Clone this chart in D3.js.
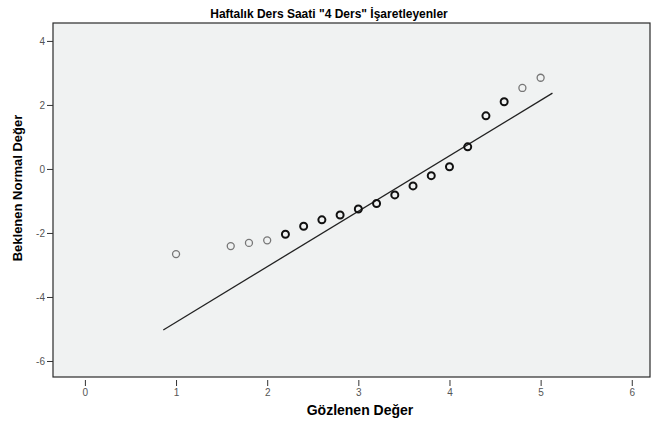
<!doctype html>
<html>
<head>
  <meta charset="utf-8">
  <script src="https://cdnjs.cloudflare.com/ajax/libs/d3/7.8.5/d3.min.js"></script>
  <style>
    body { margin: 0; background: #fff; }
    text { font-family: "Liberation Sans", Arial, sans-serif; }
  </style>
</head>
<body>
  <svg id="chart" width="653" height="421"></svg>
  <script>
    var observed = [1.0, 1.6, 1.8, 2.0, 2.2, 2.4, 2.6, 2.8, 3.0, 3.2, 3.4, 3.6, 3.8, 4.0, 4.2, 4.4, 4.6, 4.8, 5.0];
    var expected = [-2.66, -2.41, -2.31, -2.23, -2.04, -1.79, -1.59, -1.44, -1.25, -1.08, -0.81, -0.53, -0.21, 0.07, 0.69, 1.66, 2.1, 2.53, 2.85];
    var xTicks = [0, 1, 2, 3, 4, 5, 6];
    var yTicks = [-6, -4, -2, 0, 2, 4];
    // reference line end points
    var lineX = [0.86, 5.13];
    var lineY = [-5.03, 2.37];

    var svg = d3.select("#chart");
    var pLeft = 53, pRight = 650, pTop = 23, pBottom = 377;

    var x = d3.scaleLinear().domain([-0.35, 6.2]).range([pLeft, pRight]);
    var y = d3.scaleLinear().domain([-6.5, 4.56]).range([pBottom, pTop]);

    svg.append("rect")
      .attr("x", pLeft).attr("y", pTop)
      .attr("width", pRight - pLeft).attr("height", pBottom - pTop)
      .style("fill", "#f0f2f2")
      .style("stroke", "#2a2a2a")
      .style("stroke-width", 1.2);

    var fmt = d => String(d); // plain hyphen minus like the original

    // y axis
    var yAxis = svg.append("g")
      .attr("transform", "translate(" + pLeft + ",0)")
      .call(d3.axisLeft(y).tickValues(yTicks).tickFormat(fmt).tickSize(6).tickPadding(2));
    yAxis.select(".domain").remove();
    yAxis.selectAll("line").style("stroke", "#333");
    yAxis.selectAll("text").style("fill", "#555").style("font-size", "10px");

    // x axis
    var xAxis = svg.append("g")
      .attr("transform", "translate(0," + (pBottom + 3) + ")")
      .call(d3.axisBottom(x).tickValues(xTicks).tickFormat(fmt).tickSize(6).tickPadding(3));
    xAxis.select(".domain").remove();
    xAxis.selectAll("line").style("stroke", "#333");
    xAxis.selectAll("text").style("fill", "#555").style("font-size", "10px");

    // reference line
    svg.append("line")
      .attr("x1", x(lineX[0])).attr("y1", y(lineY[0]))
      .attr("x2", x(lineX[1])).attr("y2", y(lineY[1]))
      .style("stroke", "#222")
      .style("stroke-width", 1.3);

    var pts = observed.map((d, i) => ({ x: d, y: expected[i] }));
    svg.selectAll("circle.pt")
      .data(pts)
      .enter()
      .append("circle")
      .attr("class", "pt")
      .attr("cx", d => x(d.x))
      .attr("cy", d => y(d.y))
      .attr("r", 3.5)
      .style("fill", "none")
      .style("stroke", d => (d.x <= 2.0 || d.x >= 4.8) ? "#777" : "#111")
      .style("stroke-width", d => (d.x <= 2.0 || d.x >= 4.8) ? 1.3 : 2);

    svg.append("text")
      .attr("x", 329).attr("y", 18)
      .attr("text-anchor", "middle")
      .style("font-size", "12px").style("font-weight", "bold")
      .text("Haftalık Ders Saati \"4 Ders\" İşaretleyenler");

    svg.append("text")
      .attr("transform", "translate(22,188) rotate(-90)")
      .attr("text-anchor", "middle")
      .style("font-size", "13px").style("font-weight", "bold")
      .text("Beklenen Normal Değer");

    svg.append("text")
      .attr("x", 360).attr("y", 415)
      .attr("text-anchor", "middle")
      .style("font-size", "14px").style("font-weight", "bold")
      .text("Gözlenen Değer");
  </script>
</body>
</html>
